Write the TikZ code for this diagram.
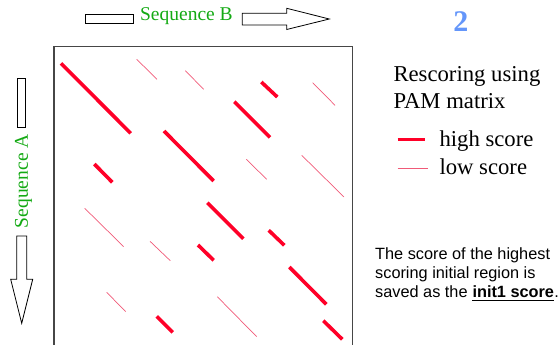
\documentclass[tikz,border=0pt]{standalone}
\usepackage{fontspec}
\setmainfont{Liberation Serif}
\newfontfamily\arialf{Liberation Sans}
\definecolor{seqgreen}{RGB}{20,170,20}
\definecolor{hotred}{RGB}{255,0,40}
\definecolor{lowred}{RGB}{240,90,120}
\definecolor{numblue}{RGB}{100,150,250}
\definecolor{boxgray}{RGB}{70,70,70}
\begin{document}
\begin{tikzpicture}[x=1pt,y=-1pt,
  hi/.style={hotred,line width=3.6pt},
  lo/.style={lowred,line width=0.7pt},
  arrowshape/.style={draw=black,fill=white,line width=0.8pt},
  seqlabel/.style={seqgreen,font=\fontsize{19.5}{22}\selectfont,inner sep=0pt},
  serlabel/.style={font=\fontsize{22.7}{27}\selectfont,inner sep=0pt,anchor=base west},
  sanslabel/.style={font=\arialf\fontsize{16.3}{19}\selectfont,inner sep=0pt,anchor=base west}]
\clip (0,0) rectangle (558,345);
% arrows
\draw[arrowshape] (85,14.7) rectangle (133.3,23.3);
\draw[arrowshape] (242.3,13.3) -- (286.7,13.3) -- (286.7,8.3) -- (329.3,19) -- (286.7,29.5) -- (286.7,25) -- (242.3,25) -- cycle;
\node[seqlabel] (seqB) at (186.4,16.5) {Sequence B};
\draw[arrowshape] (17.3,78.3) rectangle (25.3,127.3);
\draw[arrowshape] (16.7,236) -- (26.7,236) -- (26.7,279.3) -- (32.7,279.3) -- (21.7,323.3) -- (10.7,279.3) -- (16.7,279.3) -- cycle;
\node[seqlabel,rotate=90] (seqA) at (23.5,181.2) {Sequence A};
% box
\draw[boxgray,line width=1.3pt] (54,360) -- (54,46.7) -- (352.8,46.7) -- (352.8,360);
% high
\draw[hi] (61,63.3) -- (130.7,133.3);
\draw[hi] (164,131) -- (213.7,181);
\draw[hi] (234.3,101.7) -- (270,137.3);
\draw[hi] (261.3,82) -- (277.3,97);
\draw[hi] (94.3,164) -- (112.3,182.3);
\draw[hi] (207.3,202.7) -- (243.3,238.7);
\draw[hi] (268.7,230.3) -- (284.3,245.3);
\draw[hi] (198,245) -- (213.7,260.3);
\draw[hi] (289.3,267) -- (326.3,304.3);
\draw[hi] (156.7,316.3) -- (172.7,332.3);
\draw[hi] (323.3,320.7) -- (342.3,339.3);
% low
\draw[lo] (136.7,59.3) -- (157,79.3);
\draw[lo] (185.3,70.7) -- (203.7,89.3);
\draw[lo] (312.7,82.7) -- (335,105.3);
\draw[lo] (246.3,159.3) -- (266.7,179.3);
\draw[lo] (301.7,155.3) -- (344,197);
\draw[lo] (84.7,208.3) -- (123.7,246.7);
\draw[lo] (150,241.3) -- (170.3,260.7);
\draw[lo] (106.7,292.3) -- (125.7,311.7);
\draw[lo] (217.3,296.7) -- (256.7,336.7);
% right side
\node[numblue,font=\bfseries\fontsize{30}{32}\selectfont,inner sep=0pt,anchor=base] (num) at (460.8,31.7) {2};
\node[serlabel] (t1) at (393.3,81.7) {Rescoring using};
\node[serlabel] (t2) at (393.3,109) {PAM matrix};
\draw[hi,line width=3pt] (397.7,140) -- (425,140);
\node[serlabel] (hs) at (439.3,146.7) {high score};
\draw[lo,line width=0.6pt] (397.7,168.3) -- (428.3,168.3);
\node[serlabel] (ls) at (439.3,175) {low score};
\node[sanslabel] (s1) at (375,259) {The score of the highest};
\node[sanslabel] (s2) at (375,278.3) {scoring initial region is};
\node[sanslabel] (s3) at (375,297.7) {saved as the};
\node[sanslabel,font=\arialf\bfseries\fontsize{16.3}{19}\selectfont] (s3b) at ([xshift=4.5pt]s3.base east) {init1 score};
\node[sanslabel] (s3c) at (s3b.base east) {.};
\draw[black,line width=1.4pt] ([yshift=-3pt]s3b.base west) -- ([yshift=-3pt]s3b.base east);
\end{tikzpicture}
\end{document}
